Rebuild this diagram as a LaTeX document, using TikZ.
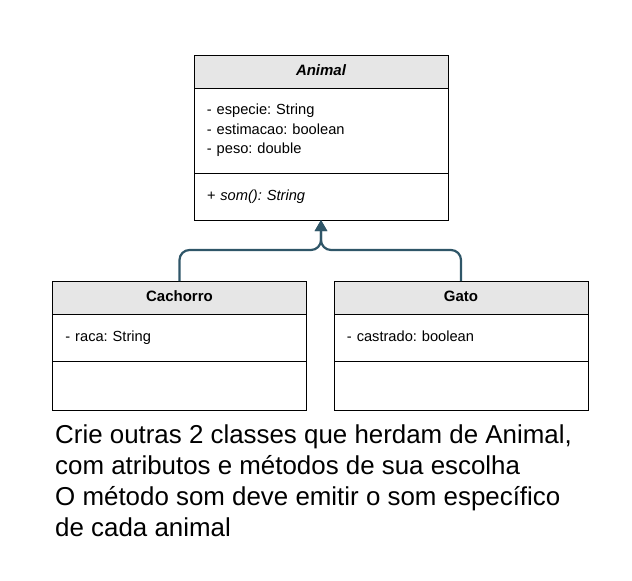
\documentclass[tikz,border=0pt]{standalone}
\usepackage{fontspec}
\setmainfont{Liberation Sans}
\usepackage{xcolor}
\usetikzlibrary{arrows.meta}
\usetikzlibrary{positioning}
\definecolor{linecolor}{HTML}{2F5668}
\definecolor{headcolor}{HTML}{E6E6E6}
\frenchspacing

\begin{document}
\begin{tikzpicture}[x=0.03cm,y=-0.03cm,
    classpart/.style={draw=black, line width=0.8pt, outer sep=0pt, inner xsep=0.39cm,
      text width=6.84cm, font=\fontsize{12.5}{16.6}\selectfont,
      execute at begin node=\strut, execute at end node=\strut},
    classhead/.style={classpart, fill=headcolor, minimum height=0.99cm, align=center,
      font=\fontsize{12.8}{16.6}\selectfont\bfseries},
    classbody/.style={classpart, align=left},
    inherit/.style={draw=linecolor, line width=1.9pt, rounded corners=0.3cm,
      -{Triangle[length=0.33cm,width=0.36cm]}}]
  \useasboundingbox (0,0) rectangle (632,581);
  %% classe base
  \node[classhead] (animal-head) at (321,71.5) {\itshape Animal};
  \node[classbody, below=0pt of animal-head, minimum height=2.55cm] (animal-attr)
    {- especie: String\\- estimacao: boolean\\- peso: double};
  \node[classbody, below=0pt of animal-attr, minimum height=1.41cm] (animal-meth)
    {\itshape + som(): String};
  %% subclasses
  \node[classhead] (cachorro-head) at (179.5,297.5) {Cachorro};
  \node[classbody, below=0pt of cachorro-head, minimum height=1.41cm] (cachorro-attr)
    {- raca: String};
  \node[classbody, below=0pt of cachorro-attr, minimum height=1.47cm] (cachorro-meth) {};
  \node[classhead] (gato-head) at (461,297.5) {Gato};
  \node[classbody, below=0pt of gato-head, minimum height=1.41cm] (gato-attr)
    {- castrado: boolean};
  \node[classbody, below=0pt of gato-attr, minimum height=1.47cm] (gato-meth) {};
  %% heranca
  \coordinate (junction) at (321,250);
  \draw[inherit] (cachorro-head.north) |- (junction) -- (animal-meth.south);
  \draw[inherit] (gato-head.north) |- (junction) -- (animal-meth.south);
  %% enunciado
  \node[anchor=north west, inner sep=0pt, align=left,
    font=\fontsize{22.1}{26.6}\selectfont] (task) at (55,424)
    {Crie outras 2 classes que herdam de Animal,\\
     com atributos e métodos de sua escolha\\
     O método som deve emitir o som específico\\
     de cada animal};
\end{tikzpicture}
\end{document}
